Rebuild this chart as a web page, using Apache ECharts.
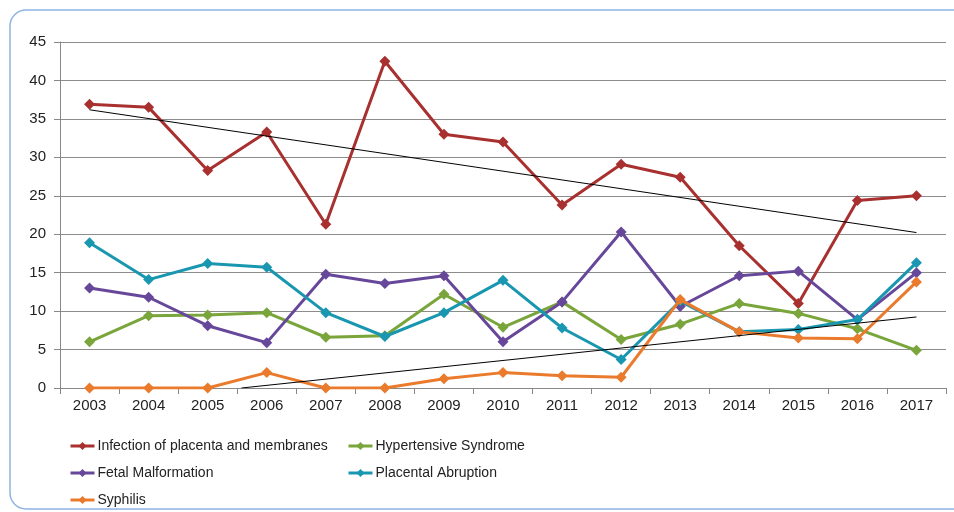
<!DOCTYPE html>
<html>
<head>
<meta charset="utf-8">
<script src="https://cdn.jsdelivr.net/npm/echarts@6/dist/echarts.min.js"></script>
<style>
  html, body { margin: 0; padding: 0; background: #fff; }
  #main { width: 954px; height: 512px; }
</style>
</head>
<body>
<div id="main"></div>
<script>
var years = ['2003', '2004', '2005', '2006', '2007', '2008', '2009', '2010', '2011', '2012', '2013', '2014', '2015', '2016', '2017'];
var yTicks = [0, 5, 10, 15, 20, 25, 30, 35, 40, 45];

var infection = [36.9, 36.5, 28.3, 33.3, 21.3, 42.5, 33.0, 32.0, 23.8, 29.1, 27.4, 18.5, 11.0, 24.4, 25.0];
var hypertensive = [6.0, 9.4, 9.5, 9.8, 6.6, 6.8, 12.2, 7.9, 11.2, 6.3, 8.3, 11.0, 9.7, 7.7, 4.9];
var malformation = [13.0, 11.8, 8.1, 5.9, 14.8, 13.6, 14.6, 6.0, 11.2, 20.3, 10.6, 14.6, 15.2, 8.9, 15.0];
var abruption = [18.9, 14.1, 16.2, 15.7, 9.8, 6.7, 9.8, 14.0, 7.8, 3.7, 11.3, 7.3, 7.6, 8.9, 16.3];
var syphilis = [0, 0, 0, 2.0, 0, 0, 1.2, 2.0, 1.6, 1.4, 11.5, 7.3, 6.5, 6.4, 13.8];

var names = ['Infection of placenta and membranes', 'Hypertensive Syndrome', 'Fetal Malformation', 'Placental Abruption', 'Syphilis'];
var colors = ['#a8302f', '#79a53b', '#67479a', '#1a97b0', '#ea7a2c'];

// linear (least squares) trend, clipped at the axis minimum 0
function trend(vals) {
  var n = vals.length, sx = 0, sy = 0, sxy = 0, sxx = 0;
  for (var i = 0; i < n; i++) { sx += i; sy += vals[i]; sxy += i * vals[i]; sxx += i * i; }
  var b = (n * sxy - sx * sy) / (n * sxx - sx * sx);
  var a = (sy - b * sx) / n;
  var x0 = 0, x1 = n - 1;
  if (a + b * x0 < 0) x0 = -a / b;
  if (a + b * x1 < 0) x1 = -a / b;
  return [[x0, a + b * x0], [x1, a + b * x1]];
}

var font = 'Liberation Sans, sans-serif';
var myChart = echarts.init(document.getElementById('main'));

var allData = [infection, hypertensive, malformation, abruption, syphilis];
var series = [];
for (var k = 0; k < 5; k++) {
  series.push({
    name: names[k],
    type: 'line',
    data: allData[k],
    symbol: 'diamond',
    symbolSize: 11,
    lineStyle: { width: 3, color: colors[k] },
    itemStyle: { color: colors[k] },
    z: 2 + k,
    animation: false
  });
}
series.push({
  type: 'line', xAxisIndex: 1, data: trend(infection), symbol: 'none',
  lineStyle: { width: 1, color: '#000' }, z: 10, animation: false, silent: true
});
series.push({
  type: 'line', xAxisIndex: 1, data: trend(syphilis), symbol: 'none',
  lineStyle: { width: 1, color: '#000' }, z: 10, animation: false, silent: true
});

function legendAt(name, left, top) {
  return {
    data: [name], left: left, top: top, itemWidth: 24, itemHeight: 10, itemGap: 4,
    lineStyle: { width: 3 },
    textStyle: { fontFamily: font, fontSize: 14, color: '#222', padding: [0, 0, 0, -2] }
  };
}

option = {
  animation: false,
  graphic: [{
    type: 'rect', shape: { x: 10, y: 10, width: 960, height: 499, r: 16 },
    style: { fill: 'none', stroke: '#8fb4e3', lineWidth: 1.5 }, silent: true
  }],
  legend: [
    legendAt(names[0], 64, 434),
    legendAt(names[1], 342, 434),
    legendAt(names[2], 64, 461),
    legendAt(names[3], 342, 461),
    legendAt(names[4], 64, 488)
  ],
  grid: { left: 60, right: 8, top: 42, bottom: 124 },
  xAxis: [{
    type: 'category',
    data: years,
    boundaryGap: true,
    axisLine: { lineStyle: { color: '#888', width: 1 } },
    axisTick: { show: true, length: 6, lineStyle: { color: '#888' } },
    axisLabel: { fontFamily: font, fontSize: 15, color: '#222', margin: 10 }
  }, {
    type: 'value', min: -0.5, max: 14.5, show: false
  }],
  yAxis: {
    type: 'value', min: yTicks[0], max: yTicks[yTicks.length - 1], interval: 5,
    axisLine: { show: true, onZero: false, lineStyle: { color: '#888' } },
    axisTick: { show: true, length: 6, inside: false, lineStyle: { color: '#888' } },
    splitLine: { lineStyle: { color: '#8c8c8c', width: 1 } },
    axisLabel: { fontFamily: font, fontSize: 15, color: '#222', margin: 14 }
  },
  series: series
};

myChart.setOption(option);
</script>
</body>
</html>
